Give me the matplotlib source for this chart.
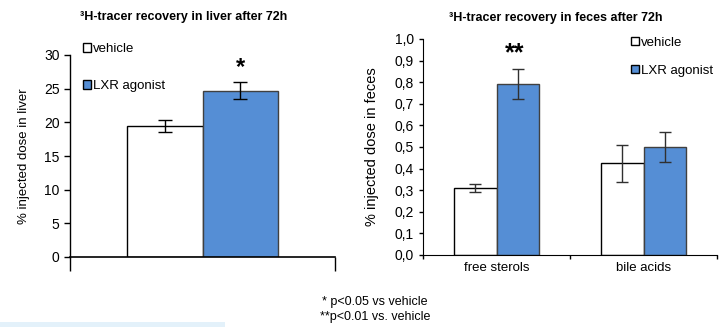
import numpy as np
import matplotlib.pyplot as plt
from matplotlib.patches import Patch, Rectangle

# data
liver_groups = ['vehicle', 'LXR agonist']
liver_vals = [19.5, 24.7]
liver_err = [0.9, 1.3]

feces_cats = ['free sterols', 'bile acids']
feces_vehicle = [0.31, 0.425]
feces_vehicle_err = [0.02, 0.085]
feces_lxr = [0.79, 0.50]
feces_lxr_err = [0.07, 0.07]

BLUE = '#558ed5'
W, H = 719, 327

plt.rcParams['font.family'] = ['Liberation Sans', 'DejaVu Sans']

fig = plt.figure(figsize=(W / 100, H / 100), dpi=100)

def px_axes(x0, x1, ytop, ybot):
    return fig.add_axes([x0 / W, 1 - ybot / H, (x1 - x0) / W, (ybot - ytop) / H])

# ---- left: liver ----
ax1 = px_axes(70, 335, 55, 257)
bw = 0.286
ax1.bar(-bw / 2, liver_vals[0], bw, color='white', edgecolor='black', linewidth=1.0,
        yerr=liver_err[0], capsize=5, error_kw=dict(elinewidth=1, capthick=1))
ax1.bar(bw / 2, liver_vals[1], bw, color=BLUE, edgecolor='#404040', linewidth=1.0,
        yerr=liver_err[1], capsize=5, error_kw=dict(elinewidth=1, capthick=1))
ax1.text(bw / 2, liver_vals[1] + liver_err[1] + 0.5, '*', ha='center', va='bottom',
         fontsize=17, fontweight='bold')
ax1.set_xlim(-0.5, 0.5)
ax1.set_ylim(0, 30)
ax1.set_yticks(np.arange(0, 31, 5))
ax1.set_xticks([-0.5, 0.5])
ax1.set_xticklabels([])
ax1.tick_params(axis='x', length=10, width=1)
ax1.tick_params(axis='y', length=4, width=1, labelsize=10)
ax1.set_ylabel('% injected dose in liver', fontsize=9.5)
ax1.yaxis.set_label_coords(-0.15, 0.5)
for s in ['top', 'right']:
    ax1.spines[s].set_visible(False)
ax1.spines['bottom'].set_linewidth(1.2)
ax1.spines['left'].set_linewidth(1.0)
ax1.set_title('³H-tracer recovery in liver after 72h', fontsize=9, fontweight='bold',
              pad=25, x=0.43)
h1 = [Patch(facecolor='white', edgecolor='black', label=liver_groups[0]),
      Patch(facecolor=BLUE, edgecolor='black', label=liver_groups[1])]
ax1.legend(handles=h1, loc='upper left', bbox_to_anchor=(0.03, 1.085), frameon=False,
           fontsize=9.5, handlelength=0.6, handleheight=0.6, handletextpad=0.15,
           labelspacing=1.9, borderaxespad=0)

# ---- right: feces ----
ax2 = px_axes(423, 717, 39, 255)
x = np.arange(len(feces_cats))
bw2 = 0.29
ax2.bar(x - bw2 / 2, feces_vehicle, bw2, color='white', edgecolor='black', linewidth=1.0,
        yerr=feces_vehicle_err, capsize=4, error_kw=dict(elinewidth=1, capthick=1, ecolor='#303030'))
ax2.bar(x + bw2 / 2, feces_lxr, bw2, color=BLUE, edgecolor='#404040', linewidth=1.0,
        yerr=feces_lxr_err, capsize=4, error_kw=dict(elinewidth=1, capthick=1, ecolor='#303030'))
ax2.text(x[0] + bw2 / 2 - 0.02, 0.88, '**', ha='center', va='bottom', fontsize=18, fontweight='bold')
ax2.set_xlim(-0.5, 1.5)
ax2.set_ylim(0, 1.0)
yt = np.round(np.arange(0, 1.01, 0.1), 1)
ax2.set_yticks(yt)
ax2.set_yticklabels([f'{v:.1f}'.replace('.', ',') for v in yt])
ax2.set_xticks([-0.5, 0.5, 1.5], minor=False)
ax2.set_xticklabels([])
ax2.set_xticks(x, minor=True)
ax2.set_xticklabels(feces_cats, minor=True)
ax2.tick_params(axis='x', which='major', length=3, width=1)
ax2.tick_params(axis='x', which='minor', length=0, labelsize=9.5, pad=5)
ax2.tick_params(axis='y', length=3, width=1, labelsize=10)
ax2.set_ylabel('% injected dose in feces', fontsize=10.5)
ax2.yaxis.set_label_coords(-0.15, 0.5)
for s in ['top', 'right']:
    ax2.spines[s].set_visible(False)
ax2.set_title('³H-tracer recovery in feces after 72h', fontsize=9, fontweight='bold',
              pad=13, x=0.45)
h2 = [Patch(facecolor='white', edgecolor='black', label='vehicle'),
      Patch(facecolor=BLUE, edgecolor='black', label='LXR agonist')]
ax2.legend(handles=h2, loc='upper left', bbox_to_anchor=(0.69, 1.035), frameon=False,
           fontsize=9.5, handlelength=0.6, handleheight=0.6, handletextpad=0.15,
           labelspacing=1.2, borderaxespad=0)

# footnote
fig.text(375 / W, 1 - 302 / H, '* p<0.05 vs vehicle', ha='center', va='center', fontsize=9,
         family=['Liberation Sans Narrow', 'Liberation Sans', 'DejaVu Sans'])
fig.text(375 / W, 1 - 317 / H, '**p<0.01 vs. vehicle', ha='center', va='center', fontsize=9,
         family=['Liberation Sans Narrow', 'Liberation Sans', 'DejaVu Sans'])

# faint strip at bottom left
fig.patches.append(Rectangle((0, 0), 225 / W, 5 / H, transform=fig.transFigure,
                             facecolor='#e3f1fa', edgecolor='none'))

fig.savefig('out.png', dpi=100)
